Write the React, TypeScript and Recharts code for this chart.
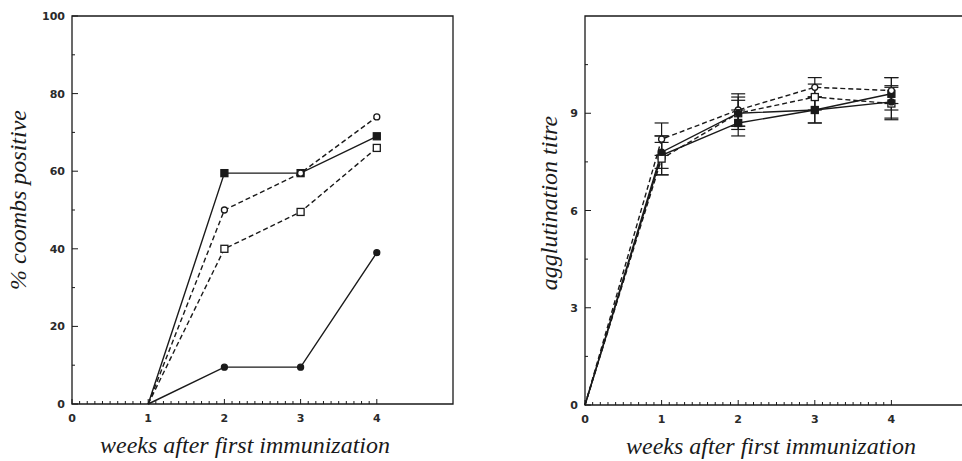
import React from 'react';
import { LineChart, Line, XAxis, YAxis, ReferenceArea, ErrorBar } from 'recharts';

// weeks after first immunization
const weeksLeft = [1, 2, 3, 4];
const weeksRight = [0, 1, 2, 3, 4];

// % coombs positive
const coombsFilledSquare = [0, 59.5, 59.5, 69];
const coombsOpenCircle = [0, 50, 59.5, 74];
const coombsOpenSquare = [0, 40, 49.5, 66];
const coombsFilledCircle = [0, 9.5, 9.5, 39];

// agglutination titre (+ error)
const titreFilledSquare = [0, 7.7, 8.7, 9.1, 9.6];
const titreFilledSquareErr = [0, 0.6, 0.4, 0.4, 0.5];
const titreFilledCircle = [0, 7.8, 9.0, 9.1, 9.35];
const titreFilledCircleErr = [0, 0.5, 0.5, 0.4, 0.5];
const titreOpenCircle = [0, 8.2, 9.1, 9.8, 9.7];
const titreOpenCircleErr = [0, 0.5, 0.5, 0.3, 0.4];
const titreOpenSquare = [0, 7.6, 9.0, 9.5, 9.3];
const titreOpenSquareErr = [0, 0.5, 0.4, 0.4, 0.5];

const xTicks = Array.from({ length: 41 }, (_, i) => i / 10);
const xLabels = [0, 1, 2, 3, 4];
const yTicksLeft = [0, 10, 20, 30, 40, 50, 60, 70, 80, 90, 100];
const yLabelsLeft = [0, 20, 40, 60, 80, 100];
const yTicksRight = [0, 1.5, 3, 4.5, 6, 7.5, 9, 10.5];
const yLabelsRight = [0, 3, 6, 9];

const leftData = weeksLeft.map((w, i) => ({
  w,
  fsq: coombsFilledSquare[i],
  oci: coombsOpenCircle[i],
  osq: coombsOpenSquare[i],
  fci: coombsFilledCircle[i],
}));

const rightData = weeksRight.map((w, i) => ({
  w,
  fsq: titreFilledSquare[i],
  fsqE: titreFilledSquareErr[i],
  fci: titreFilledCircle[i],
  fciE: titreFilledCircleErr[i],
  oci: titreOpenCircle[i],
  ociE: titreOpenCircleErr[i],
  osq: titreOpenSquare[i],
  osqE: titreOpenSquareErr[i],
}));

const INK = '#1a1a1a';
const tickFont = { fontFamily: 'DejaVu Sans', fontWeight: 700, fontSize: 11, fill: '#2a2a2a' };
const titleFont: React.CSSProperties = {
  position: 'absolute',
  fontFamily: '"Liberation Serif", serif',
  fontStyle: 'italic',
  fontSize: 24,
  color: INK,
  whiteSpace: 'nowrap',
  lineHeight: 1,
};

const near = (v: number, list: number[]) => list.some((l) => Math.abs(l - v) < 1e-6);

const xTick = (props: any) => {
  const { x, y, payload } = props;
  const v = payload.value;
  const major = Math.abs(v - Math.round(v)) < 1e-6;
  return (
    <g>
      <line x1={x} x2={x} y1={y} y2={y - (major ? 5 : 3)} stroke={INK} strokeWidth={1} />
      {near(v, xLabels) && (
        <text x={x} y={y + 18} textAnchor="middle" {...tickFont}>
          {v}
        </text>
      )}
    </g>
  );
};

const makeYTick = (labels: number[]) => (props: any) => {
  const { x, y, payload } = props;
  const v = payload.value;
  const major = near(v, labels);
  return (
    <g>
      <line x1={x} x2={x + (major ? 6 : 3)} y1={y} y2={y} stroke={INK} strokeWidth={1} />
      {major && (
        <text x={x - 7} y={y + 4} textAnchor="end" {...tickFont}>
          {v}
        </text>
      )}
    </g>
  );
};

const marker = (kind: string, size: number) => (props: any) => {
  const { cx, cy, index, value } = props;
  if (cx == null || cy == null || value === 0) return <g key={index} />;
  const h = size / 2;
  if (kind === 'fsq' || kind === 'osq')
    return (
      <rect key={index} x={cx - h} y={cy - h} width={size} height={size}
        fill={kind === 'fsq' ? INK : '#fff'} stroke={INK} strokeWidth={1.3} />
    );
  return (
    <circle key={index} cx={cx} cy={cy} r={h - 0.5}
      fill={kind === 'fci' ? INK : '#fff'} stroke={INK} strokeWidth={1.3} />
  );
};

const series = [
  { key: 'fsq', dash: undefined },
  { key: 'oci', dash: '5 3' },
  { key: 'osq', dash: '5 3' },
  { key: 'fci', dash: undefined },
];

export default function App() {
  return (
    <div style={{ position: 'absolute', left: 0, top: 0, width: 962, height: 461, overflow: 'hidden', background: '#fff' }}>
      <div style={{ position: 'absolute', left: 0, top: 0 }}>
        <LineChart width={480} height={461} data={leftData} margin={{ top: 16, right: 27, left: 32, bottom: 17 }}>
          <ReferenceArea x1={0} x2={5} y1={0} y2={100} fill="none" stroke={INK} strokeWidth={1.3} ifOverflow="visible" />
          <XAxis dataKey="w" type="number" domain={[0, 5]} ticks={xTicks} interval={0} height={40}
            axisLine={false} tickLine={false} tickSize={0} tickMargin={0} tick={xTick} />
          <YAxis type="number" domain={[0, 100]} ticks={yTicksLeft} interval={0} width={40}
            axisLine={false} tickLine={false} tickSize={0} tickMargin={0} tick={makeYTick(yLabelsLeft)} />
          {series.map((s) => (
            <Line key={s.key} dataKey={s.key} stroke={INK} strokeWidth={1.4} strokeDasharray={s.dash}
              dot={marker(s.key, 7)} activeDot={false} isAnimationActive={false} />
          ))}
        </LineChart>
      </div>
      <div style={{ position: 'absolute', left: 480, top: 0 }}>
        <LineChart width={500} height={461} data={rightData} margin={{ top: 16, right: 12, left: 65, bottom: 16 }}>
          <ReferenceArea x1={0} x2={5} y1={0} y2={12} fill="none" stroke={INK} strokeWidth={1.3} ifOverflow="visible" />
          <XAxis dataKey="w" type="number" domain={[0, 5]} ticks={xTicks} interval={0} height={40}
            axisLine={false} tickLine={false} tickSize={0} tickMargin={0} tick={xTick} />
          <YAxis type="number" domain={[0, 12]} ticks={yTicksRight} interval={0} width={40}
            axisLine={false} tickLine={false} tickSize={0} tickMargin={0} tick={makeYTick(yLabelsRight)} />
          {series.map((s) => (
            <Line key={s.key} dataKey={s.key} stroke={INK} strokeWidth={1.4} strokeDasharray={s.dash}
              dot={marker(s.key, 7)} activeDot={false} isAnimationActive={false}>
              <ErrorBar dataKey={s.key + 'E'} width={7} stroke={INK} strokeWidth={1.2} direction="y" isAnimationActive={false} />
            </Line>
          ))}
        </LineChart>
      </div>
      <div style={{ ...titleFont, left: 245, top: 433, transform: 'translateX(-50%)' }}>weeks after first immunization</div>
      <div style={{ ...titleFont, left: 771, top: 434, transform: 'translateX(-50%)' }}>weeks after first immunization</div>
      <div style={{ ...titleFont, left: 18, top: 200, transform: 'translate(-50%, -50%) rotate(-90deg)' }}>% coombs positive</div>
      <div style={{ ...titleFont, left: 549, top: 203, transform: 'translate(-50%, -50%) rotate(-90deg)' }}>agglutination titre</div>
    </div>
  );
}
